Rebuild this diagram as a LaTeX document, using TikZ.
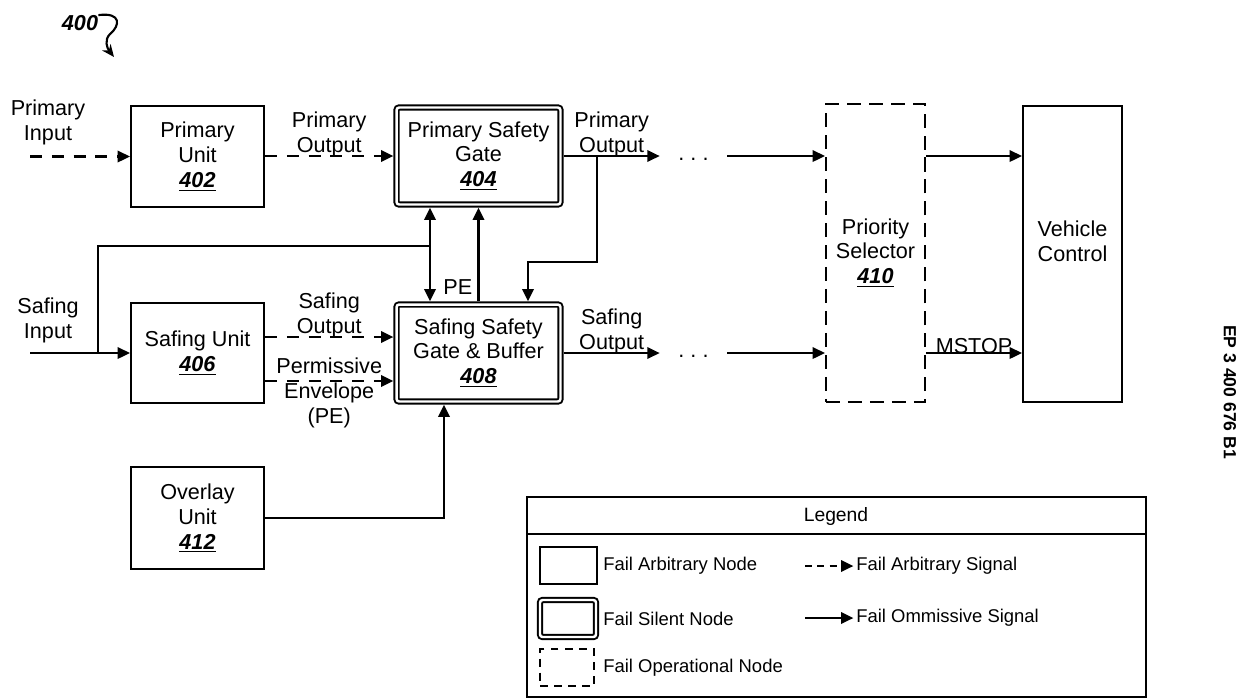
\documentclass[tikz,border=0pt]{standalone}
\usepackage{fontspec}
\setmainfont{Liberation Sans}
\usetikzlibrary{arrows.meta, positioning, calc}
\newcommand{\mainsize}{\fontsize{12.3}{14.2}\selectfont}
\newcommand{\legsize}{\fontsize{10.5}{12.6}\selectfont}
\newcommand{\refnum}[1]{\underline{\textbf{\textit{#1}}}}

\begin{document}
\begin{tikzpicture}[x=0.02cm, y=-0.02cm,
    arbbox/.style={draw, line width=1.2pt, align=center, font=\mainsize, inner sep=0pt},
    silentbox/.style={draw, line width=1.1pt, double, double distance=1.4pt, rounded corners=1.5pt, outer sep=1.8pt, align=center, font=\mainsize, inner sep=0pt},
    opbox/.style={draw, line width=1.2pt, dash pattern=on 8pt off 4.5pt, align=center, font=\mainsize, inner sep=0pt},
    omsig/.style={-{Triangle[length=7pt,width=6.5pt]}, line width=1.2pt},
    arbsig/.style={omsig, dash pattern=on 6.8pt off 5.6pt},
    lbl/.style={font=\mainsize, align=center, inner sep=0pt},
    dotsnode/.style={font=\mainsize, minimum width=1.34cm, inner sep=0pt, text height=1ex, text depth=0pt},
    legtext/.style={font=\legsize, anchor=west, inner sep=0pt}]
    \useasboundingbox (0,0) rectangle (1241,698);

    % Figure number
    \node[font=\mainsize\bfseries\itshape, inner sep=0pt] (fig) at (80,23) {400};
    \draw[-{Stealth[length=7pt,width=6pt]}, line width=1.2pt]
        ([yshift=4.5pt]fig.east) .. controls (122,12) and (120,26) .. (110,34)
        .. controls (104,40) and (107,48) .. (114,57);

    % Units
    \node[arbbox, minimum width=2.66cm, minimum height=2.02cm] (pu) at (197.5,156.5) {Primary\\Unit\\\refnum{402}};
    \node[arbbox, minimum width=2.66cm, minimum height=2.0cm] (su) at (197.5,353) {Safing Unit\\\refnum{406}};
    \node[arbbox, minimum width=2.66cm, minimum height=2.04cm] (ou) at (197.5,518) {Overlay\\Unit\\\refnum{412}};

    % Safety gates
    \node[silentbox, minimum width=3.28cm, minimum height=1.94cm] (psg) at (478.5,156) {Primary Safety\\Gate\\\refnum{404}};
    \node[silentbox, minimum width=3.28cm, minimum height=1.94cm] (ssg) at (478.5,353) {Safing Safety\\Gate \& Buffer\\\refnum{408}};

    % Selector and vehicle
    \node[opbox, minimum width=1.98cm, minimum height=5.96cm] (ps) at (875.5,253) {Priority\\Selector\\\refnum{410}};
    \node[arbbox, minimum width=1.98cm, minimum height=5.92cm] (vc) at (1072.5,254) {Vehicle\\Control\\\mbox{}};

    % Inputs
    \node[lbl] (pinlbl) at (48,122) {Primary\\Input};
    \node[lbl] (sinlbl) at (48,320) {Safing\\Input};
    \coordinate (pin) at (30,156.5);
    \coordinate (sin) at (30,353);
    \coordinate (stap) at (98,353);
    \coordinate (bus) at (430,246);
    \coordinate (ptap) at (597,156);
    \coordinate (pbend) at (528,262);

    % Elision dots
    \node[dotsnode] (dotsA) at (693.5,156) {.\hspace{3.5pt}.\hspace{3.5pt}.};
    \node[dotsnode] (dotsB) at (693.5,353) {.\hspace{3.5pt}.\hspace{3.5pt}.};

    % Primary path
    \draw[arbsig] (pin) -- (pu.west);
    \draw[arbsig] (pu.east |- psg.west) -- node[lbl, above, yshift=-1pt] {Primary\\Output} (psg.west);
    \draw[omsig] (psg.east) -- node[lbl, above, yshift=-1pt] {Primary\\Output} (dotsA.west);
    \draw[omsig] (dotsA.east) -- (dotsA.east -| ps.west);
    \draw[omsig] (ps.east |- dotsA.east) -- (vc.west |- dotsA.east);

    % Safing path
    \draw[omsig] (sin) -- (su.west);
    \draw[line width=1.2pt] (stap) |- (bus);
    \draw[omsig] (bus) -- (bus |- psg.south);
    \draw[omsig] (bus) -- (bus |- ssg.north);
    \draw[omsig] (ssg.north) -- node[lbl, pos=0.15, left=3pt] {PE} (psg.south);
    \draw[omsig] (ptap) |- (pbend) -- (pbend |- ssg.north);
    \draw[arbsig] ([yshift=0.32cm]su.east) -- node[lbl, above, yshift=-1pt] {Safing\\Output} ([yshift=0.32cm]su.east -| ssg.west);
    \draw[arbsig] ([yshift=-0.56cm]su.east) -- node[lbl, yshift=-7pt] {Permissive\\Envelope\\(PE)} ([yshift=-0.56cm]su.east -| ssg.west);
    \draw[omsig] (ou.east) -| ([xshift=-0.69cm]ssg.south);
    \draw[omsig] (ssg.east) -- node[lbl, above, yshift=-1pt] {Safing\\Output} (dotsB.west);
    \draw[omsig] (dotsB.east) -- (dotsB.east -| ps.west);
    \draw[omsig] (ps.east |- dotsB.east) -- node[lbl, above, yshift=-1pt] {MSTOP} (vc.west |- dotsB.east);

    % Legend
    \draw[line width=1.2pt] (527,497) rectangle (1146,697);
    \draw[line width=1.2pt] (527,534) -- (1146,534);
    \node[font=\fontsize{11}{13}\selectfont, inner sep=0pt] (legtitle) at (836,516) {Legend};
    \node[arbbox, minimum width=1.14cm, minimum height=0.74cm] (legarb) at (568.5,565.5) {};
    \node[silentbox, minimum width=1.12cm, minimum height=0.74cm] (legsil) at (568,618.5) {};
    \node[opbox, dash pattern=on 4.5pt off 3.5pt, minimum width=1.08cm, minimum height=0.74cm] (legop) at (567,667.5) {};
    \node[legtext] (legarbtxt) at (603,566) {Fail Arbitrary Node};
    \node[legtext] (legsiltxt) at (603,619) {Fail Silent Node};
    \node[legtext] (legoptxt) at (603,668) {Fail Operational Node};
    \node[legtext] (legarbsig) at (856,566) {Fail Arbitrary Signal};
    \node[legtext] (legomsig) at (856,618) {Fail Ommissive Signal};
    \coordinate (legA) at (805,566);
    \coordinate (legB) at (805,618);
    \draw[omsig, dash pattern=on 4pt off 3pt] (legA) -- ([xshift=-1.5pt]legarbsig.west);
    \draw[omsig] (legB) -- ([xshift=-1.5pt]legomsig.west);

    % Publication number
    \node[font=\fontsize{10}{12}\selectfont\bfseries, rotate=-90, inner sep=0pt] (pubno) at (1230,392) {EP 3 400 676 B1};
\end{tikzpicture}
\end{document}
